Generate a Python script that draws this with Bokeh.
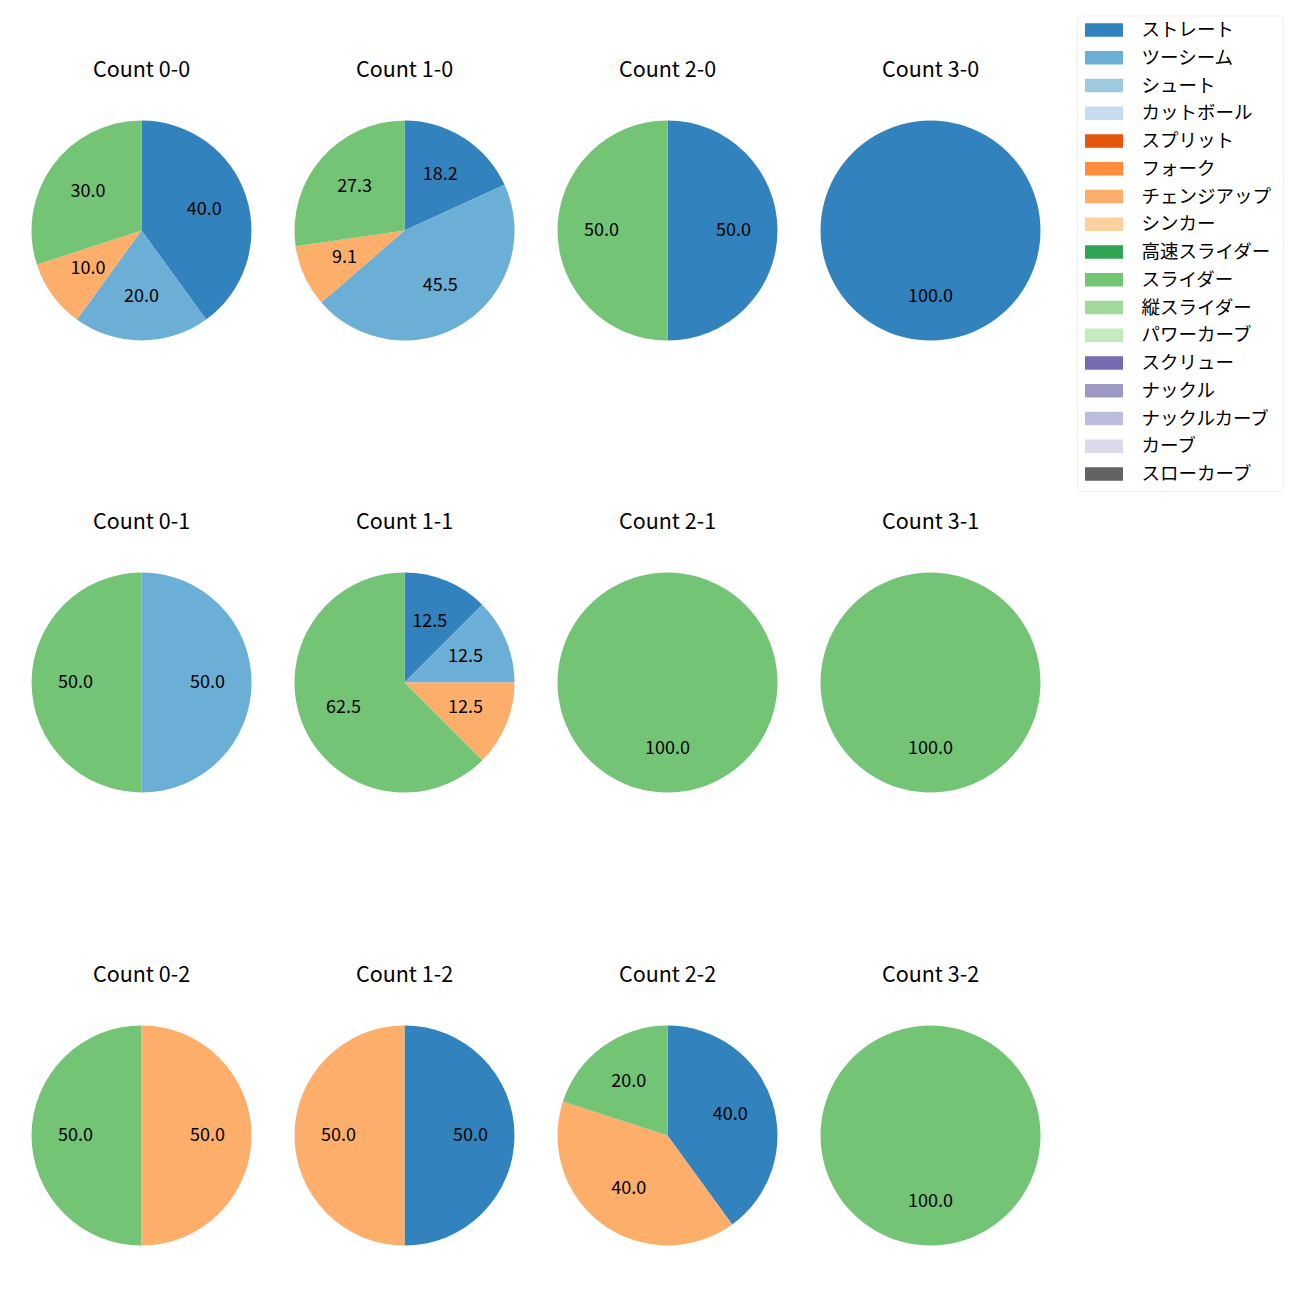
from bokeh.plotting import figure
from bokeh.models import Range1d, ColumnDataSource, BoxAnnotation
from bokeh.core.properties import value
from bokeh.embed import file_html
from bokeh.resources import INLINE
import math

# ---- data ----
pitch_types = ["ストレート", "ツーシーム", "シュート", "カットボール", "スプリット", "フォーク",
               "チェンジアップ", "シンカー", "高速スライダー", "スライダー", "縦スライダー",
               "パワーカーブ", "スクリュー", "ナックル", "ナックルカーブ", "カーブ", "スローカーブ"]
colors = ["#3182bd", "#6baed6", "#9ecae1", "#c6dbef", "#e6550d", "#fd8d3c", "#fdae6b", "#fdd0a2",
          "#31a354", "#74c476", "#a1d99b", "#c7e9c0", "#756bb1", "#9e9ac8", "#bcbddc", "#dadaeb",
          "#636363"]

count_titles = ["Count 0-0", "Count 1-0", "Count 2-0", "Count 3-0",
                "Count 0-1", "Count 1-1", "Count 2-1", "Count 3-1",
                "Count 0-2", "Count 1-2", "Count 2-2", "Count 3-2"]

# pitches per count (only non-zero pitch types listed)
straight =   [4, 2, 1, 1, 0, 1, 0, 0, 0, 1, 2, 0]
two_seam =   [2, 5, 0, 0, 1, 1, 0, 0, 0, 0, 0, 0]
changeup =   [1, 1, 0, 0, 0, 1, 0, 0, 1, 1, 2, 0]
slider =     [3, 3, 1, 0, 1, 5, 1, 1, 1, 0, 1, 1]

series = {"ストレート": straight, "ツーシーム": two_seam, "チェンジアップ": changeup, "スライダー": slider}

# ---- layout (screen px) ----
FONT = "Noto Sans CJK JP"
col_x = [141, 404, 667, 930]
row_y = [230, 682, 1135]
R = 110
H = 1300

def Y(sy):
    return H - sy

p = figure(width=1284, height=1284, x_range=Range1d(0, 1284), y_range=Range1d(16, 1300),
           output_backend="svg", toolbar_location=None, min_border=0)
p.axis.visible = False
p.grid.visible = False
p.outline_line_color = None

wx, wy, ws, we, wc = [], [], [], [], []
lx, ly, lt = [], [], []
tx, ty, tt = [], [], []
for i, title in enumerate(count_titles):
    cx = col_x[i % 4]
    cy = Y(row_y[i // 4])
    tx.append(cx)
    ty.append(Y(row_y[i // 4] - 161))
    tt.append(title)
    total = sum(series[k][i] for k in series)
    ang = 90.0
    for k, name in enumerate(pitch_types):
        if name not in series:
            continue
        v = series[name][i]
        if v == 0:
            continue
        frac = v / total
        a0 = ang - frac * 360.0
        s_rad = math.radians(a0)
        e_rad = math.radians(ang)
        if frac >= 1.0:
            e_rad = s_rad + 2 * math.pi - 1e-4
        wx.append(cx); wy.append(cy)
        ws.append(s_rad); we.append(e_rad)
        wc.append(colors[k])
        mid = math.radians((a0 + ang) / 2)
        lx.append(cx + 0.6 * R * math.cos(mid))
        ly.append(cy + 0.6 * R * math.sin(mid))
        lt.append(f"{frac * 100:.1f}")
        ang = a0

src = ColumnDataSource(dict(x=wx, y=wy, s=ws, e=we, c=wc))
p.wedge(x="x", y="y", radius=R, start_angle="s", end_angle="e", direction="anticlock",
        fill_color="c", line_color=None, source=src)
p.text(x=lx, y=ly, text=lt, text_align="center", text_baseline="middle", y_offset=-2,
       text_font=value(FONT), text_font_size="18px", text_color="black")
p.text(x=tx, y=ty, text=tt, text_align="center", text_baseline="middle", y_offset=-2,
       text_font=value(FONT), text_font_size="21.5px", text_color="black")

# ---- legend ----
box = BoxAnnotation(left=1077, right=1283, top=Y(15.5), bottom=Y(491), fill_color="white",
                    fill_alpha=0.8, line_color="#cccccc", line_width=1, border_radius=4,
                    level="underlay")
p.add_layout(box)
ly0 = 29.5
pitch = 27.75
gx, gy, gc, gtx, gty = [], [], [], [], []
for k, name in enumerate(pitch_types):
    sy = ly0 + k * pitch
    gx.append(1103.5); gy.append(Y(sy)); gc.append(colors[k])
    gtx.append(1141); gty.append(Y(sy))
p.rect(x=gx, y=gy, width=38, height=13.5, fill_color=gc, line_color=None)
p.text(x=gtx, y=gty, text=pitch_types, text_align="left", text_baseline="middle", y_offset=-2,
       text_font=value(FONT), text_font_size="18.5px", text_color="black")

open("out.html", "w").write(file_html(p, INLINE))
